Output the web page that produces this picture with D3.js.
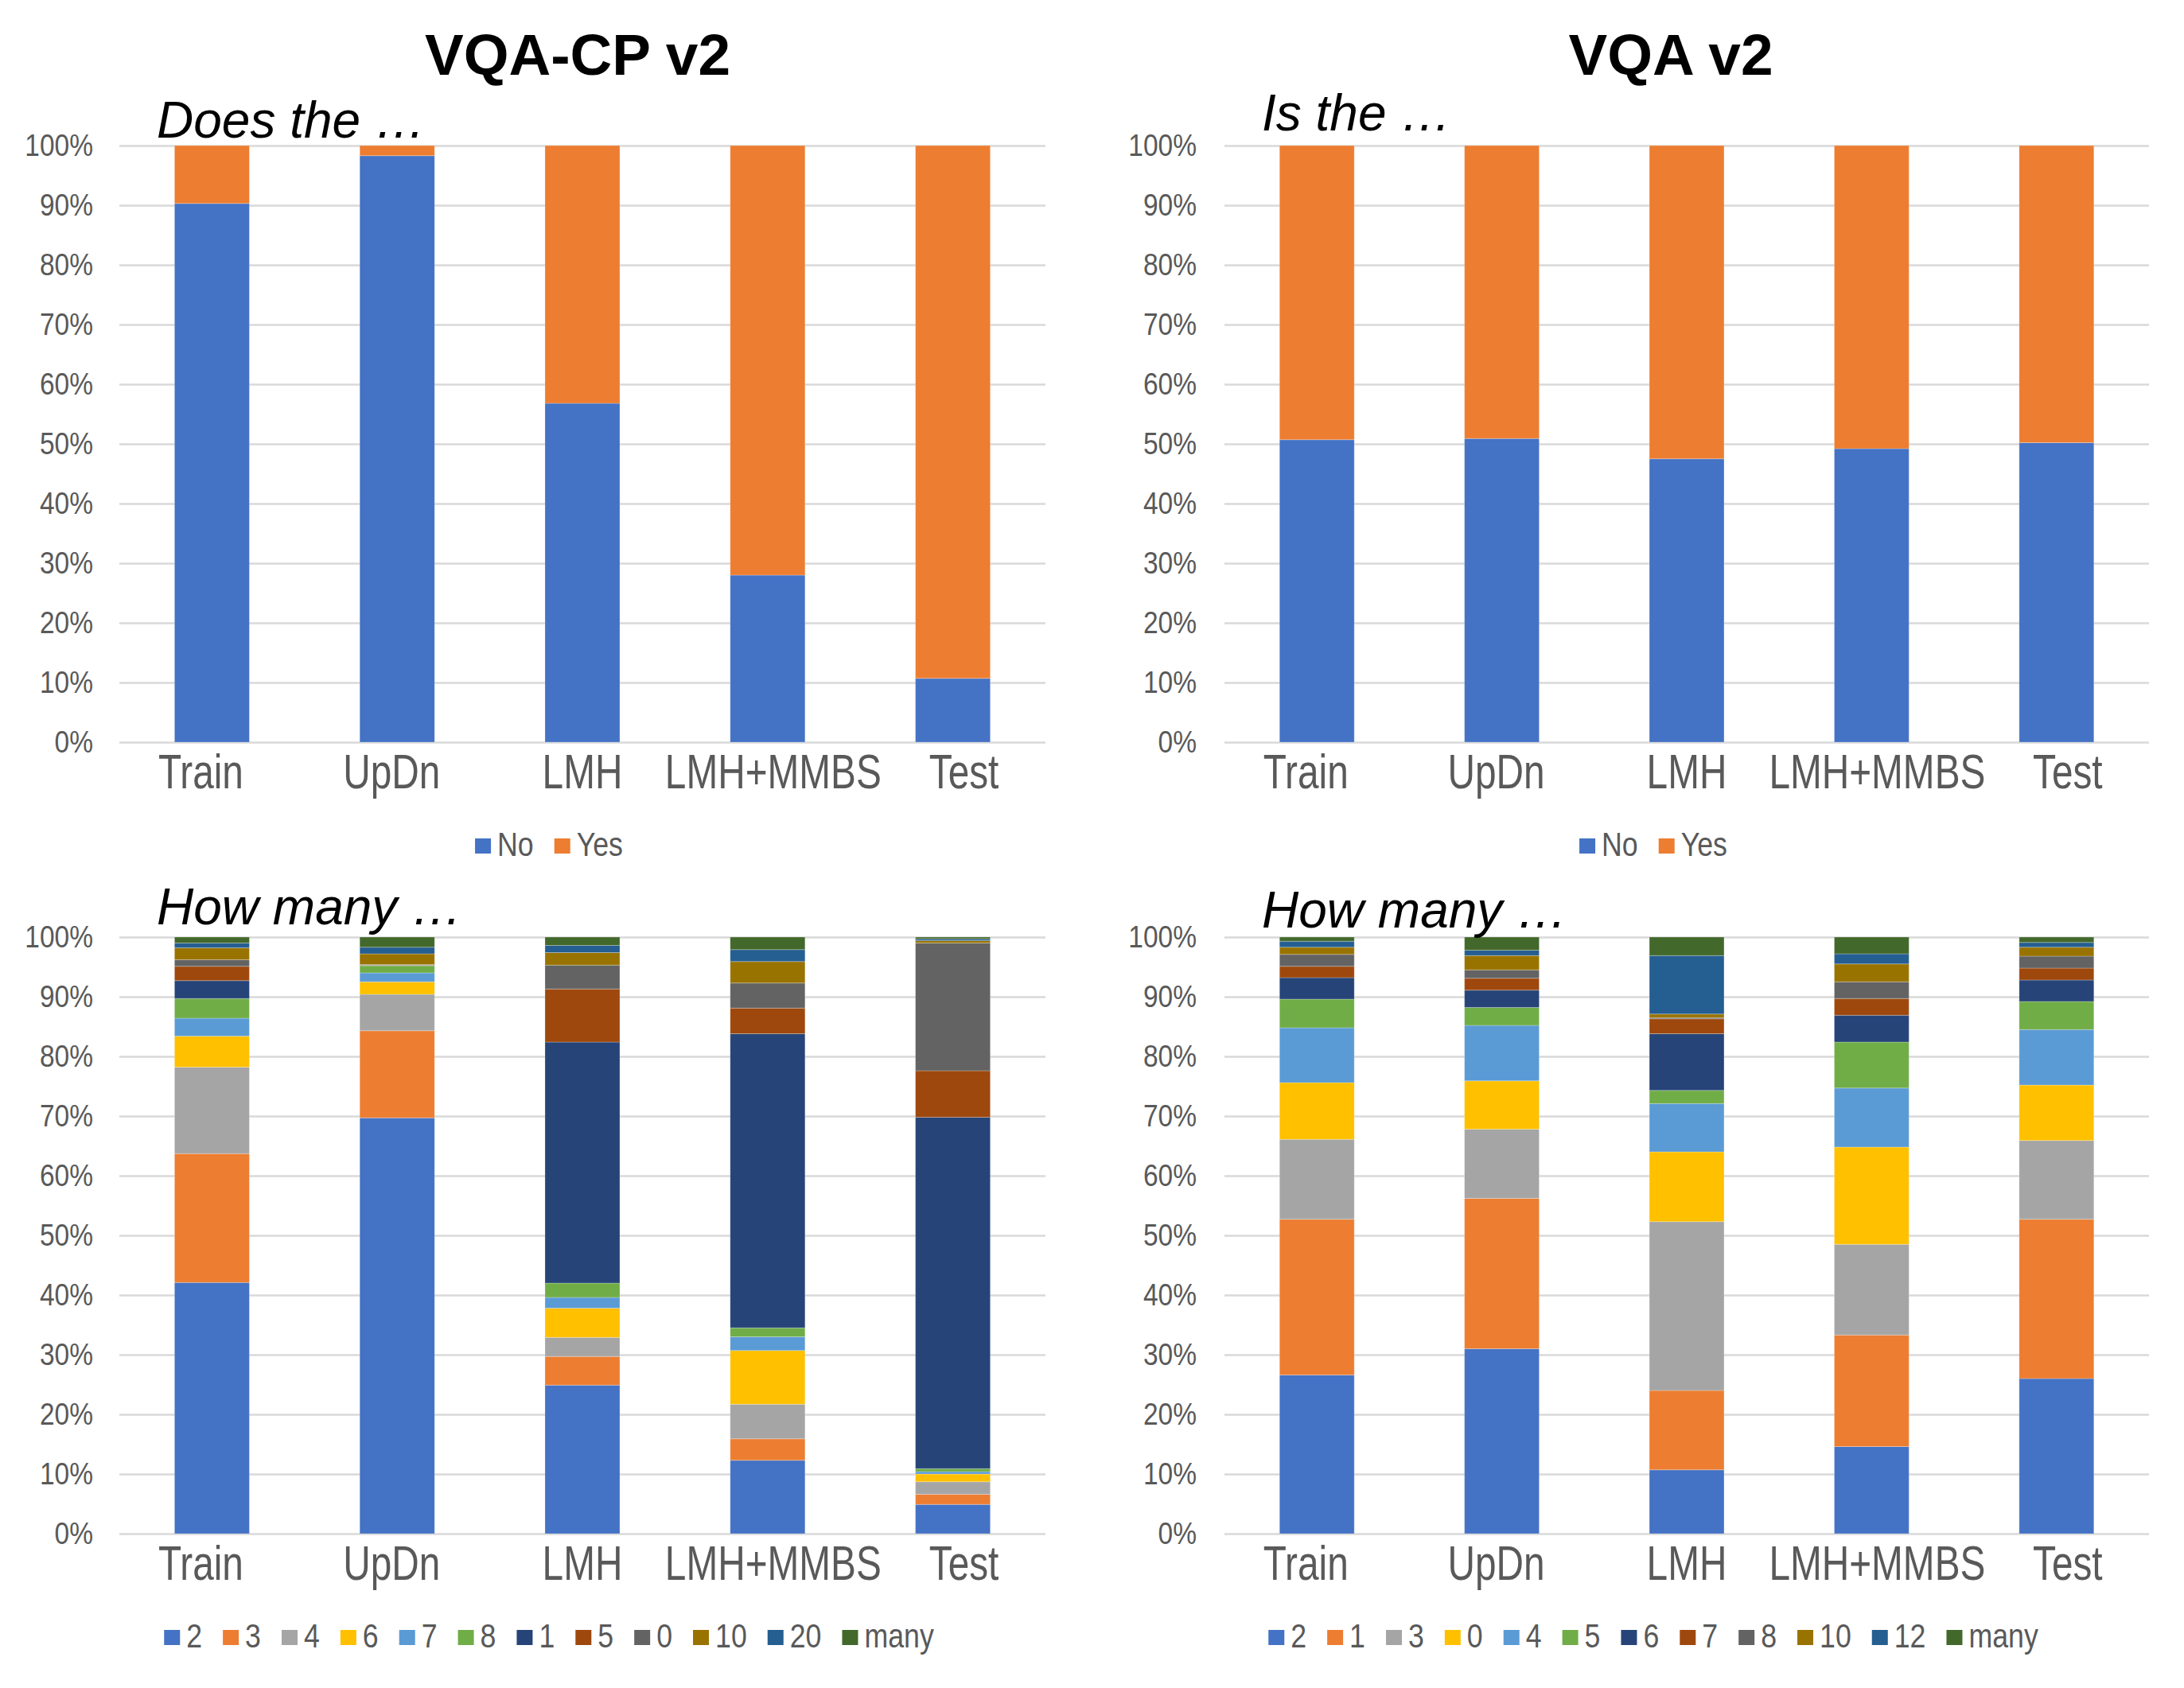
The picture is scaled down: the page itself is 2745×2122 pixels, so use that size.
<!DOCTYPE html>
<html>
<head>
<meta charset="utf-8">
<script src="https://cdn.jsdelivr.net/npm/d3@7"></script>
<style>
  body { margin: 0; background: #fff; }
  svg { display: block; }
  text { font-family: "Liberation Sans", Arial, sans-serif; }
</style>
</head>
<body>
<svg id="chart"></svg>
<script>
// Categories shared by all four panels
const categories = ["Train", "UpDn", "LMH", "LMH+MMBS", "Test"];

// Yes/No panels (percent of answers)
const yesNoKeys = ["No", "Yes"];
const cpNo  = [90.3, 98.3, 56.8, 28.0, 10.7];
const cpYes = [9.7, 1.7, 43.2, 72.0, 89.3];
const vqaNo  = [50.7, 50.9, 47.5, 49.2, 50.2];
const vqaYes = [49.3, 49.1, 52.5, 50.8, 49.8];

// "How many" panel, VQA-CP v2 (one row per answer, in legend order)
const cpCountKeys = ["2", "3", "4", "6", "7", "8", "1", "5", "0", "10", "20", "many"];
const cpCountValues = [
  [42.1, 69.7, 24.9, 12.3, 4.9],
  [21.6, 14.6, 4.8, 3.6, 1.7],
  [14.5, 6.1, 3.2, 5.8, 2.1],
  [5.2, 2.1, 4.9, 9.0, 1.3],
  [3.0, 1.5, 1.8, 2.3, 0.4],
  [3.3, 1.2, 2.4, 1.5, 0.5],
  [3.0, 0.05, 40.4, 49.3, 58.9],
  [2.4, 0.05, 8.9, 4.3, 7.8],
  [1.1, 0.1, 4.0, 4.2, 21.4],
  [2.0, 1.8, 2.1, 3.6, 0.4],
  [0.8, 1.1, 1.2, 2.0, 0.3],
  [1.0, 1.7, 1.4, 2.1, 0.3]
];

// "How many" panel, VQA v2
const vqaCountKeys = ["2", "1", "3", "0", "4", "5", "6", "7", "8", "10", "12", "many"];
const vqaCountValues = [
  [26.6, 31.0, 10.7, 14.6, 26.0],
  [26.1, 25.2, 13.3, 18.7, 26.7],
  [13.4, 11.6, 28.3, 15.2, 13.2],
  [9.5, 8.1, 11.7, 16.3, 9.3],
  [9.2, 9.3, 8.1, 9.9, 9.3],
  [4.8, 3.0, 2.2, 7.7, 4.7],
  [3.6, 2.9, 9.5, 4.5, 3.6],
  [1.9, 2.0, 2.5, 2.8, 2.0],
  [2.0, 1.4, 0.2, 2.8, 2.0],
  [1.2, 2.4, 0.6, 3.0, 1.5],
  [1.0, 0.9, 9.8, 1.7, 0.8],
  [0.7, 2.2, 3.1, 2.8, 0.9]
];

// Excel office palette, in series order
const palette = ["#4472C4", "#ED7D31", "#A5A5A5", "#FFC000", "#5B9BD5", "#70AD47",
                 "#264478", "#9E480E", "#636363", "#997300", "#255E91", "#43682B"];

const W = 2745, H = 2122;
const GREY = "#595959";

const svg = d3.select("#chart").attr("width", W).attr("height", H);

// Narrow the text horizontally (the source font is a condensed one)
function squeeze(sel, k) {
    sel.each(function() {
        const t = d3.select(this);
        t.attr("x", (+t.attr("x") || 0) / k).attr("transform", `scale(${k},1)`);
    });
}

function drawPanel(p) {
    const x = d3.scaleBand().domain(categories)
        .range([p.x0, p.x1])
        .paddingInner(0.596).paddingOuter(0.298);
    const y = d3.scaleLinear().domain([0, 1]).range([p.y1, p.y0]);

    const g = svg.append("g");

    // gridlines + percent labels
    const yAxis = g.append("g")
        .attr("transform", `translate(${p.x0},0)`)
        .call(d3.axisLeft(y)
            .tickValues(d3.range(0, 11).map(d => d / 10))
            .tickFormat(d3.format(".0%"))
            .tickSizeInner(-(p.x1 - p.x0))
            .tickSizeOuter(0)
            .tickPadding(p.pad));
    yAxis.select(".domain").remove();
    yAxis.selectAll("line").attr("stroke", "#d9d9d9").attr("stroke-width", 2.5);
    yAxis.selectAll("text")
        .attr("fill", GREY).attr("font-size", 39)
        .call(squeeze, 0.86);

    // stacked 100% bars
    const rows = categories.map((c, i) => {
        const r = { cat: c };
        p.keys.forEach((k, j) => r[k] = p.values[j][i]);
        return r;
    });
    const series = d3.stack().keys(p.keys).offset(d3.stackOffsetExpand)(rows);

    g.append("g").selectAll("g")
        .data(series)
        .join("g")
        .attr("fill", (d, i) => palette[i])
        .selectAll("rect")
        .data(d => d)
        .join("rect")
        .attr("x", d => x(d.data.cat))
        .attr("width", x.bandwidth())
        .attr("y", d => y(d[1]))
        .attr("height", d => y(d[0]) - y(d[1]))
        .attr("stroke", "#fff").attr("stroke-opacity", 0.25).attr("stroke-width", 1);

    // category labels
    g.append("g").selectAll("text")
        .data(categories)
        .join("text")
        .attr("x", (d, i) => x(d) + x.bandwidth() / 2 + (i - 2) * 7)
        .attr("y", p.y1 + 58)
        .attr("text-anchor", "middle")
        .attr("font-size", 62)
        .attr("fill", GREY)
        .text(d => d)
        .call(squeeze, 0.77);

    // question prefix
    g.append("text")
        .attr("x", p.x0 + 47)
        .attr("y", p.subY)
        .attr("font-size", 64)
        .attr("font-style", "italic")
        .attr("fill", "#000")
        .text(p.sub);

    // legend
    const lg = g.append("g");
    let cx = 0;
    p.keys.forEach((k, i) => {
        lg.append("rect")
            .attr("x", cx).attr("y", -19)
            .attr("width", 20).attr("height", 19)
            .attr("fill", palette[i]);
        const t = lg.append("text")
            .attr("x", cx + 28).attr("y", 3)
            .attr("font-size", 42)
            .attr("fill", GREY)
            .text(k)
            .call(squeeze, 0.85);
        cx += 28 + t.node().getComputedTextLength() * 0.85 + 26;
    });
    cx -= 26;
    lg.attr("transform", `translate(${(p.x0 + p.x1) / 2 - 42 - cx / 2},${p.legendY})`);
}

// column titles
svg.append("text").attr("x", 726).attr("y", 94)
    .attr("text-anchor", "middle").attr("font-size", 73).attr("font-weight", "bold")
    .text("VQA-CP v2");
svg.append("text").attr("x", 2100).attr("y", 94)
    .attr("text-anchor", "middle").attr("font-size", 73).attr("font-weight", "bold")
    .text("VQA v2");

drawPanel({ x0: 150, x1: 1314, y0: 183, y1: 933, pad: 33, legendY: 1073,
            keys: yesNoKeys, values: [cpNo, cpYes], sub: "Does the …", subY: 173 });
drawPanel({ x0: 1539, x1: 2701, y0: 183, y1: 933, pad: 35, legendY: 1073,
            keys: yesNoKeys, values: [vqaNo, vqaYes], sub: "Is the …", subY: 164 });
drawPanel({ x0: 150, x1: 1314, y0: 1178, y1: 1928, pad: 33, legendY: 2068,
            keys: cpCountKeys, values: cpCountValues, sub: "How many …", subY: 1162 });
drawPanel({ x0: 1539, x1: 2701, y0: 1178, y1: 1928, pad: 35, legendY: 2068,
            keys: vqaCountKeys, values: vqaCountValues, sub: "How many …", subY: 1166 });
</script>
</body>
</html>
